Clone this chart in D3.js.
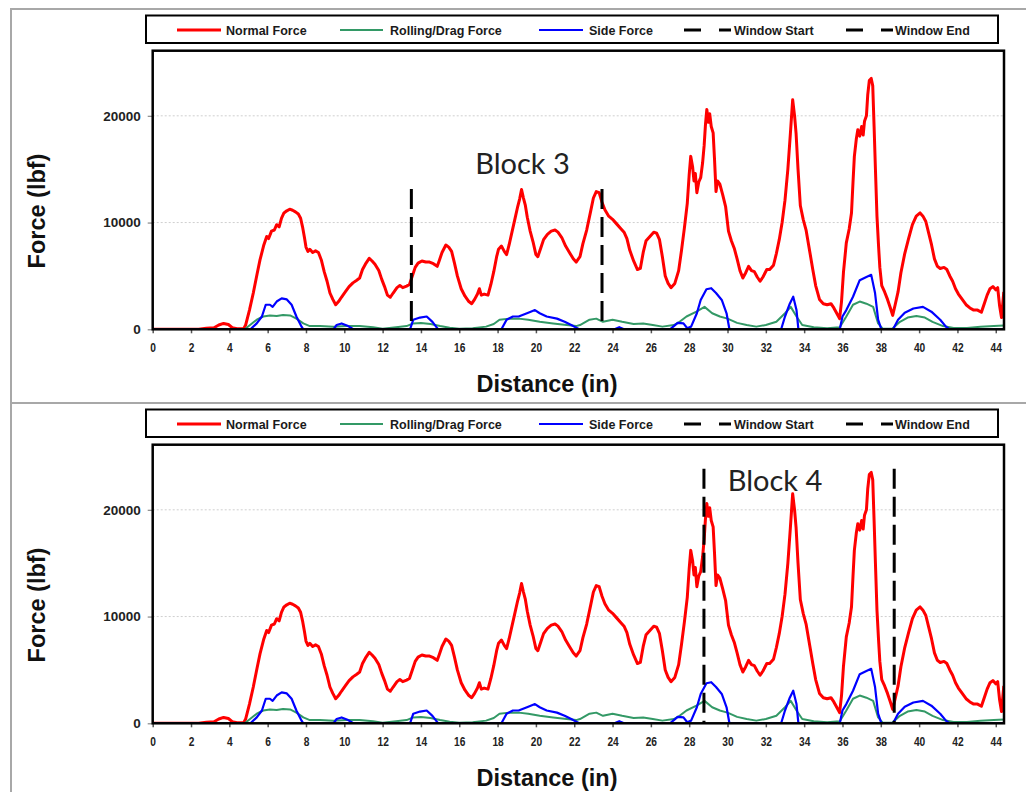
<!DOCTYPE html>
<html><head><meta charset="utf-8">
<script src="https://cdn.jsdelivr.net/npm/d3@7"></script>
<style>body{margin:0;background:#fff}svg{display:block}</style>
</head><body><svg id="c" width="1026" height="792"></svg>
<script>
// ---- data (distance in inches, force in lbf) ----
const normalX = [0,2.4,2.8,3.2,3.45,3.7,3.95,4.15,4.4,4.75,4.85,5.05,5.25,5.45,5.6,5.8,5.95,6.05,6.2,6.35,6.47,6.6,6.72,6.85,7.0,7.15,7.3,7.45,7.6,7.72,7.82,7.92,8.0,8.1,8.2,8.35,8.5,8.65,8.8,8.95,9.1,9.25,9.4,9.55,9.7,9.85,10.05,10.25,10.45,10.65,10.8,10.95,11.1,11.3,11.45,11.6,11.8,11.95,12.1,12.25,12.4,12.55,12.75,12.9,13.05,13.25,13.4,13.55,13.7,13.85,14.05,14.25,14.45,14.65,14.85,14.95,15.1,15.3,15.45,15.6,15.75,15.9,16.1,16.3,16.5,16.65,16.8,16.95,17.05,17.15,17.3,17.5,17.65,17.8,17.95,18.05,18.2,18.35,18.47,18.6,18.75,18.9,19.05,19.15,19.25,19.35,19.45,19.55,19.7,19.85,20.0,20.1,20.25,20.4,20.6,20.8,21.0,21.15,21.35,21.55,21.75,21.95,22.1,22.3,22.45,22.65,22.85,23.0,23.15,23.3,23.45,23.6,23.8,24.0,24.2,24.4,24.6,24.75,24.9,25.1,25.3,25.45,25.6,25.75,25.95,26.15,26.3,26.45,26.6,26.75,26.9,27.05,27.25,27.45,27.6,27.75,27.9,28.0,28.08,28.18,28.25,28.32,28.4,28.5,28.6,28.7,28.78,28.85,28.92,29.0,29.07,29.15,29.25,29.32,29.4,29.48,29.6,29.75,29.9,30.05,30.2,30.35,30.5,30.65,30.8,30.95,31.1,31.25,31.4,31.55,31.7,31.85,32.05,32.2,32.4,32.55,32.7,32.85,33.0,33.15,33.28,33.4,33.5,33.58,33.68,33.8,33.95,34.1,34.3,34.45,34.6,34.8,35.0,35.2,35.4,35.55,35.7,35.85,35.95,36.05,36.2,36.35,36.47,36.55,36.62,36.72,36.8,36.9,37.0,37.08,37.15,37.25,37.32,37.4,37.5,37.58,37.65,37.72,37.8,37.88,37.95,38.05,38.2,38.35,38.5,38.62,38.75,38.9,39.05,39.25,39.45,39.65,39.85,40.05,40.2,40.35,40.5,40.65,40.8,40.95,41.1,41.3,41.45,41.6,41.75,41.9,42.05,42.25,42.45,42.65,42.85,43.05,43.25,43.4,43.55,43.7,43.85,44.0,44.1,44.2,44.3,44.42];
const normalY = [0,0,100,150,400,550,450,150,50,50,400,1800,3400,5200,6500,7900,8700,8500,9200,9300,9800,9600,10400,10900,11100,11250,11150,11000,10800,10400,9600,8600,7700,7300,7500,7200,7350,7200,6500,5400,4500,3400,2800,2300,2600,3000,3500,4000,4350,4600,4800,5600,6100,6650,6400,6100,5500,4700,4000,3200,3000,3400,3900,4100,3900,4050,4200,5000,5800,6200,6400,6300,6300,6150,5900,6400,7200,7900,7700,7300,6200,5000,3800,3100,2600,2400,2800,3300,3800,3200,3300,3200,4200,5400,6800,7500,7800,7300,7000,7900,9100,10300,11500,12200,13100,12300,11600,10500,9200,8200,7000,6800,7600,8400,8900,9200,9300,9100,8600,7800,7200,6600,6300,6800,8000,9300,11000,12300,12900,12800,11900,11200,10600,10300,9900,9500,9100,8500,7400,6400,5600,5700,7200,8300,8700,9100,9000,8400,6800,5000,4300,3900,4300,5500,7400,9500,11800,14500,16200,15200,13900,14600,12800,13800,14200,15600,17200,19200,20600,19400,20200,19000,18400,16000,12900,13900,13600,12600,11500,9200,8300,7600,6600,5500,4800,5300,5900,5500,5400,4900,4500,4900,5600,5600,6000,7100,8400,10000,12100,15000,18300,21500,20000,18300,15000,11600,10300,9300,7200,5600,4100,2800,2400,2300,2400,2000,1500,1000,2600,5300,8100,9400,10900,13800,16200,17800,18700,18100,19000,18200,19500,20000,22000,23300,23500,22800,19000,15000,10600,7900,5800,4100,3500,2800,2000,1300,2300,3500,5300,7100,8500,9800,10600,10900,10600,10100,9000,7900,6600,5900,5700,5800,5600,5000,4500,3800,3300,2800,2300,2000,1800,1800,1600,2400,3200,3800,4000,3700,3900,2200,1100,3500];
const dragX = [0,4.8,5.08,5.43,5.77,6.12,6.47,6.8,7.17,7.5,7.86,8.2,8.73,9.43,10.1,10.8,11.5,12.0,12.7,13.25,13.6,14.0,14.5,15.0,15.5,16.0,16.7,17.4,17.8,18.1,18.6,19.1,19.6,20.2,20.9,21.6,22.1,22.3,22.8,23.15,23.5,24.0,24.5,25.1,25.6,26.1,26.6,27.2,27.5,27.86,28.38,28.8,29.2,29.6,30.0,30.5,31.0,31.5,32.0,32.55,33.0,33.3,33.6,33.9,34.5,35.2,35.86,36.2,36.55,36.9,37.25,37.6,37.86,38.1,38.6,39.0,39.4,39.86,40.3,40.7,41.25,41.8,42.5,43.2,43.9,44.43];
const dragY = [0,0,400,900,1200,1300,1250,1350,1300,1000,550,300,300,250,300,300,200,60,200,300,550,600,500,300,150,60,100,250,500,900,1000,1000,900,700,550,400,300,400,900,1000,700,900,700,500,550,400,250,400,700,1200,1650,2100,1500,1200,1000,600,400,250,400,700,1500,2100,1200,400,200,100,200,1200,2300,2600,2400,2100,550,60,60,700,1100,1250,1100,700,300,120,120,250,300,350];
const sideX = [0,5.1,5.43,5.7,5.9,6.12,6.26,6.47,6.73,7.0,7.25,7.5,7.77,7.86,9.43,9.6,9.86,10.2,10.47,13.43,13.6,13.95,14.3,14.6,14.9,18.2,18.47,18.8,19.1,19.6,19.95,20.2,20.56,21.1,21.5,21.95,22.26,24.1,24.35,24.6,27.0,27.2,27.4,27.7,27.9,28.1,28.4,28.6,28.9,29.15,29.4,29.7,29.95,30.1,32.8,33.0,33.25,33.43,33.6,33.7,35.86,36.0,36.2,36.55,36.9,37.25,37.5,37.7,37.86,38.03,38.64,38.9,39.25,39.7,40.2,40.64,41.1,41.4,41.6,44.43];
const sideY = [0,0,550,1200,2300,2300,2100,2600,2900,2800,2300,1200,250,0,0,400,550,300,0,0,900,1100,1200,700,0,0,900,1200,1200,1550,1800,1500,1200,1000,700,300,0,0,200,0,0,300,600,550,100,250,1500,2750,3750,3850,3400,2750,1500,0,0,1200,2400,3050,1800,0,0,1200,1800,3050,4600,4900,5100,3400,900,0,0,900,1550,1950,2100,1650,900,250,0,0];

const xTickValues = [0,2,4,6,8,10,12,14,16,18,20,22,24,26,28,30,32,34,36,38,40,42,44];
const yTickValues = [0,10000,20000];
const windowStarts = [13.5, 28.77];
const windowEnds = [23.45, 38.7];
const windowTops = [13150, 23850];
const blockLabels = ["Block 3", "Block 4"];
const blockLabelX = [19.3, 32.48];
const blockLabelY = [14560, 21800];
const legendLabels = ["Normal Force","Rolling/Drag Force","Side Force","Window Start","Window End"];

// ---- drawing ----
const svg = d3.select("#c");
const colors = {normal:"#ff0000", drag:"#339966", side:"#0000ff"};
const x = d3.scaleLinear().domain([0, 44.43]).range([152.7, 1004]);
const y = d3.scaleLinear().domain([0, 26100]).range([329.3, 50.7]);
const line = d3.line().x(d => x(d[0])).y(d => y(d[1]));
const normal = d3.zip(normalX, normalY), drag = d3.zip(dragX, dragY), side = d3.zip(sideX, sideY);
const FONT = "Liberation Sans, Arial, sans-serif";

for (let i = 0; i < 2; i++) {
  const g = svg.append("g").attr("transform", `translate(0,${i*394})`);
  // outer panel frame
  g.append("rect").attr("x", 11).attr("y", 9).attr("width", 1040).attr("height", 394)
    .attr("fill", "none").attr("stroke", "#a8a8a8").attr("stroke-width", 2);

  // legend
  g.append("rect").attr("x", 146).attr("y", 15.5).attr("width", 852).attr("height", 27.5)
    .attr("fill", "#fff").attr("stroke", "#000").attr("stroke-width", 2);
  const legItems = [
    {x0:177, x1:221, tx:226, c:colors.normal, w:3, dash:null},
    {x0:340, x1:383, tx:390, c:colors.drag, w:2, dash:null},
    {x0:539, x1:583, tx:589, c:colors.side, w:2, dash:null},
    {x0:684, x1:731, tx:734, c:"#000", w:3, dash:"17,18"},
    {x0:846, x1:893, tx:895, c:"#000", w:3, dash:"17,18"}
  ];
  legItems.forEach((it, k) => {
    g.append("line").attr("x1", it.x0).attr("x2", it.x1).attr("y1", 30).attr("y2", 30)
      .attr("stroke", it.c).attr("stroke-width", it.w).attr("stroke-dasharray", it.dash);
    g.append("text").attr("x", it.tx).attr("y", 34.5).text(legendLabels[k])
      .attr("font-family", FONT).attr("font-weight", "bold").attr("font-size", 12.5)
      .attr("fill", "#1a1a1a");
  });

  // grid
  g.selectAll(".grid").data(yTickValues.filter(v => v > 0)).join("line")
    .attr("x1", x.range()[0]).attr("x2", x.range()[1])
    .attr("y1", d => y(d)).attr("y2", d => y(d))
    .attr("stroke", "#cfcfcf").attr("stroke-width", 1).attr("stroke-dasharray", "2,2");

  // clip
  const cid = "clip" + i;
  g.append("clipPath").attr("id", cid).append("rect")
    .attr("x", x.range()[0]).attr("y", y.range()[1])
    .attr("width", x.range()[1] - x.range()[0]).attr("height", y.range()[0] - y.range()[1]);
  const data = g.append("g").attr("clip-path", `url(#${cid})`);
  data.append("path").datum(normal).attr("d", line).attr("fill", "none")
    .attr("stroke", colors.normal).attr("stroke-width", 3).attr("stroke-linejoin", "round");
  data.append("path").datum(drag).attr("d", line).attr("fill", "none")
    .attr("stroke", colors.drag).attr("stroke-width", 2).attr("stroke-linejoin", "round");
  data.append("path").datum(side).attr("d", line).attr("fill", "none")
    .attr("stroke", colors.side).attr("stroke-width", 2.2).attr("stroke-linejoin", "round");

  // window lines
  [windowStarts[i], windowEnds[i]].forEach(wx => {
    g.append("line").attr("x1", x(wx)).attr("x2", x(wx))
      .attr("y1", y(windowTops[i])).attr("y2", y(0))
      .attr("stroke", "#000").attr("stroke-width", 3).attr("stroke-dasharray", "20,8");
  });

  // block label
  g.append("text").attr("x", x(blockLabelX[i])).attr("y", y(blockLabelY[i]))
    .attr("text-anchor", "middle").text(blockLabels[i])
    .attr("font-family", "Lato, 'Open Sans', sans-serif").attr("font-size", 29)
    .attr("fill", "#222");

  // axes
  const xa = g.append("g").attr("transform", `translate(0,${y(0)})`)
    .call(d3.axisBottom(x).tickValues(xTickValues).tickSize(4).tickPadding(10).tickFormat(d3.format("d")));
  xa.select(".domain").remove();
  xa.selectAll(".tick line").attr("stroke", "#555").attr("stroke-width", 1.5);
  xa.selectAll(".tick text").attr("font-family", FONT).attr("font-weight", "bold")
    .attr("font-size", 12).attr("fill", "#222").attr("transform", "scale(0.85,1)");

  const ya = g.append("g").attr("transform", `translate(${x(0)},0)`)
    .call(d3.axisLeft(y).tickValues(yTickValues).tickSize(5).tickPadding(7).tickFormat(d3.format("d")));
  ya.select(".domain").remove();
  ya.selectAll(".tick line").attr("stroke", "#888").attr("stroke-width", 1.2);
  ya.selectAll(".tick text").attr("font-family", FONT).attr("font-weight", "bold")
    .attr("font-size", 13.5).attr("fill", "#222");

  // plot frame
  g.append("rect").attr("x", x.range()[0]).attr("y", y.range()[1])
    .attr("width", x.range()[1] - x.range()[0]).attr("height", y.range()[0] - y.range()[1])
    .attr("fill", "none").attr("stroke", "#000").attr("stroke-width", 2.5);

  // axis titles
  g.append("text").attr("x", 547).attr("y", 392).attr("text-anchor", "middle")
    .text("Distance (in)").attr("font-family", FONT).attr("font-weight", "bold")
    .attr("font-size", 23.5).attr("fill", "#111");
  g.append("text").attr("transform", "translate(45,211) rotate(-90)").attr("text-anchor", "middle")
    .text("Force (lbf)").attr("font-family", FONT).attr("font-weight", "bold")
    .attr("font-size", 23.5).attr("fill", "#111");
}
</script></body></html>
